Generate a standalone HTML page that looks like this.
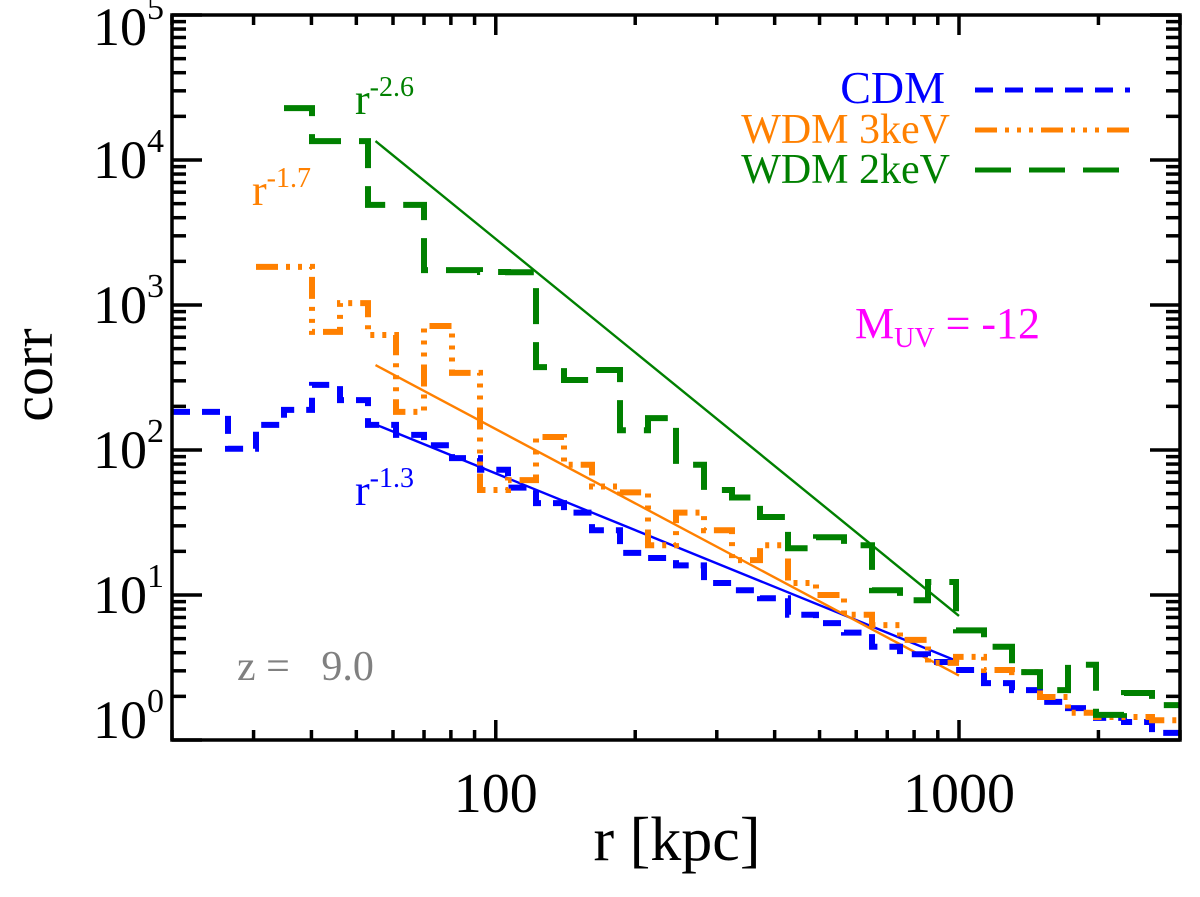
<!DOCTYPE html>
<html><head><meta charset="utf-8"><style>
html,body{margin:0;padding:0;background:#fff;}
svg{display:block;font-family:"Liberation Serif",serif;}
text{white-space:pre;}
</style></head><body>
<svg id="chart" width="1200" height="897" viewBox="0 0 1200 897">
<g id="marks"></g>
<g id="axes"></g>
<text x="677" y="860" font-size="62" text-anchor="middle">r [kpc]</text>
<text transform="translate(52,375) rotate(-90)" font-size="58" text-anchor="middle">corr</text>
<g font-size="40">
<text x="945" y="103" fill="#0000ff" text-anchor="end" font-size="46">CDM</text>
<text x="950" y="143" fill="#ff8000" text-anchor="end" font-size="42">WDM 3keV</text>
<text x="950" y="183" fill="#008000" text-anchor="end" font-size="42">WDM 2keV</text>
<line x1="975" y1="90" x2="1130" y2="90" stroke="#0000ff" stroke-width="5" stroke-dasharray="18,12"/>
<line x1="975" y1="130" x2="1130" y2="130" stroke="#ff8000" stroke-width="5" stroke-dasharray="22,8,4,8,4,8,4,8"/>
<line x1="975" y1="170" x2="1130" y2="170" stroke="#008000" stroke-width="5" stroke-dasharray="36,18"/>
</g>
<text x="855" y="338" font-size="44" fill="#ff00ff">M<tspan font-size="28" dy="9">UV</tspan><tspan dy="-9"> = -12</tspan></text>
<text x="237" y="680" font-size="42" fill="#808080">z =   9.0</text>
<text x="355" y="114" font-size="44" fill="#008000">r<tspan font-size="28" dy="-18">-2.6</tspan></text>
<text x="252" y="205" font-size="44" fill="#ff8000">r<tspan font-size="28" dy="-18">-1.7</tspan></text>
<text x="355" y="505" font-size="44" fill="#0000ff">r<tspan font-size="28" dy="-18">-1.3</tspan></text>
</svg>
<script>
// bin edges in r [kpc]: log-spaced from 20 to 3000
const nBins = 36;
const cdmValues = [183,183,102,149,189,281,221,149,127,108,88,73,55,43,37,28,19.5,18,16,12.1,10.8,9.5,7.3,6.4,5.5,4.4,3.9,3.45,3.04,2.47,2.21,1.83,1.66,1.42,1.33,1.12];
const wdm3Values = [null,null,null,1830,1830,652,1030,621,183,716,340,53,62,123,79,56,51,22,37,28,17.4,22,12.1,10,7.3,6.2,4.9,3.4,3.74,3.04,2.94,1.98,1.54,1.44,1.44,1.37];
const wdm2Values = [null,null,null,null,22800,13500,13500,4900,4900,1740,1740,1690,1680,373,304,356,137,166,79,53,47,34.5,21,25,22,10.8,9.2,12.3,5.7,4.4,2.94,2.21,3.3,1.49,2.11,1.74];
const fitExponents = [1.3,1.7,2.6];
const fitNorms = [150,385,13500];   // value at r = fitStart
const fitStart = 55, fitEnd = 1000;
const xTickLabels = ["100","1000"];
const xTickValues = [100,1000];
const yTickExps = [0,1,2,3,4,5];

const X0=172,X1=1180,Y0=15,Y1=740;
const xmin=20,xmax=3000,ymin=1,ymax=1e5;
function xs(r){return X0+(Math.log10(r)-Math.log10(xmin))/(Math.log10(xmax)-Math.log10(xmin))*(X1-X0);}
function ys(v){return Y1-(Math.log10(v)-Math.log10(ymin))/(Math.log10(ymax)-Math.log10(ymin))*(Y1-Y0);}
function edge(k){return Math.pow(10,Math.log10(xmin)+k*(Math.log10(xmax)-Math.log10(xmin))/nBins);}
const NS="http://www.w3.org/2000/svg";
const marks=document.getElementById('marks'), axes=document.getElementById('axes');
function mk(tag,attrs,parent){const e=document.createElementNS(NS,tag);for(const k in attrs)e.setAttribute(k,attrs[k]);parent.appendChild(e);return e;}

function stepPath(vals){
  let d="",prev=null;
  for(let k=0;k<vals.length;k++){
    const v=vals[k]; if(v==null){prev=null;continue;}
    const xa=xs(edge(k)),xb=xs(edge(k+1)),y=ys(v);
    if(prev==null) d+=`M${xa.toFixed(1)},${y.toFixed(1)}`; else d+=`L${xa.toFixed(1)},${y.toFixed(1)}`;
    d+=`L${xb.toFixed(1)},${y.toFixed(1)}`; prev=v;
  }
  return d;
}
const series=[[cdmValues,"#0000ff","18,12","cdm"],[wdm3Values,"#ff8000","22,8,4,8,4,8,4,8","wdm3"],[wdm2Values,"#008000","36,18","wdm2"]];
const fitColors=["#0000ff","#ff8000","#008000"];
for(let i=0;i<3;i++){
  const yA=ys(fitNorms[i]), yB=ys(fitNorms[i]*Math.pow(fitEnd/fitStart,-fitExponents[i]));
  const l=mk('line',{x1:xs(fitStart),y1:yA,x2:xs(fitEnd),y2:yB,stroke:fitColors[i],'stroke-width':2.4},marks);
  
  
}
for(const s of series){
  const p=mk('path',{d:stepPath(s[0]),fill:'none',stroke:s[1],'stroke-width':6,'stroke-dasharray':s[2]},marks);
  
  
}
const fr=mk('rect',{x:X0,y:Y0,width:X1-X0,height:Y1-Y0,fill:'none',stroke:'#000','stroke-width':3.5},axes);


for(let dec=10;dec<=1000;dec*=10){
  for(let m=1;m<10;m++){
    const r=dec*m; if(r<xmin||r>xmax) continue;
    const x=xs(r), L=(m==1)?20:10;
    mk('line',{x1:x,y1:Y1,x2:x,y2:Y1-L,stroke:'#000','stroke-width':3.5},axes);
    mk('line',{x1:x,y1:Y0,x2:x,y2:Y0+L,stroke:'#000','stroke-width':3.5},axes);
  }
}
xTickLabels.forEach((t,i)=>{
  const e=mk('text',{x:xs(xTickValues[i]),y:812,'font-size':56,'text-anchor':'middle'},axes);
  e.textContent=t;
  
  
});
for(const ex of yTickExps){
  for(let m=1;m<10;m++){
    const v=Math.pow(10,ex)*m; if(v>ymax) continue;
    const y=ys(v), L=(m==1)?30:14;
    mk('line',{x1:X0,y1:y,x2:X0+L,y2:y,stroke:'#000','stroke-width':3.5},axes);
    mk('line',{x1:X1,y1:y,x2:X1-L,y2:y,stroke:'#000','stroke-width':3.5},axes);
  }
  let by = ys(Math.pow(10,ex))+18;
  if(ex==0) by=738; if(ex==5) by=45;
  const e=mk('text',{x:164,y:by,'font-size':54,'text-anchor':'end'},axes);
  e.innerHTML='10<tspan font-size="34" dy="-26">'+ex+'</tspan>';
  
  
}
</script>
</body></html>
